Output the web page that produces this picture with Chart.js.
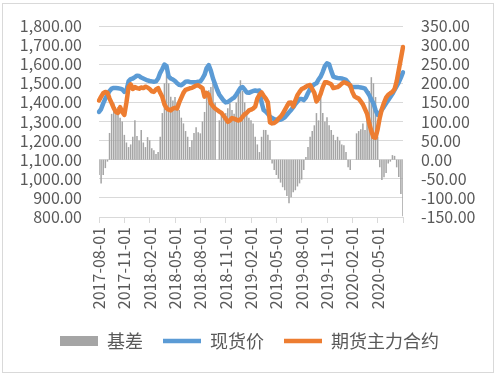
<!DOCTYPE html>
<html>
<head>
<meta charset="utf-8">
<script src="https://cdn.jsdelivr.net/npm/chart.js@4.4.1/dist/chart.umd.min.js"></script>
<style>
  html, body { margin: 0; padding: 0; background: #fff; }
  #wrap { width: 499px; height: 377px; position: relative; }
</style>
</head>
<body>
<div id="wrap"><canvas id="myChart" width="499" height="377"></canvas></div>
<script>
// weekly points, 2017-08-01 .. 2020-08-01
const months = [];
for (let y = 2017; y <= 2020; y++) {
  for (let m = 1; m <= 12; m++) {
    if ((y === 2017 && m < 8) || (y === 2020 && m > 7)) continue;
    months.push(y + "-" + String(m).padStart(2, "0"));
  }
}
const days = ["01", "08", "15", "22"];
const labels = [];
months.forEach((mo) => days.forEach((d) => labels.push(mo + "-" + d)));
labels.push("2020-08-01");

// 现货价
const spot = [
  1350, 1365, 1395, 1420, 1440, 1460, 1472, 1476, 1475, 1474, 1472, 1468,
  1455, 1462, 1510, 1522, 1525, 1532, 1540, 1538, 1530, 1525, 1520, 1515,
  1512, 1510, 1508, 1510, 1525, 1555, 1575, 1598, 1590, 1535, 1525, 1520,
  1512, 1500, 1492, 1490, 1498, 1508, 1510, 1507, 1505, 1505, 1506, 1508,
  1510, 1525, 1545, 1580, 1595, 1565, 1525, 1495, 1465, 1440, 1425, 1410,
  1400, 1402, 1410, 1418, 1425, 1440, 1458, 1475, 1480, 1468, 1452, 1450,
  1455, 1460, 1462, 1460, 1462, 1400, 1360, 1352, 1340, 1325, 1318, 1312,
  1310, 1307, 1310, 1315, 1322, 1335, 1348, 1360, 1375, 1392, 1405, 1418,
  1418, 1412, 1425, 1449, 1470, 1485, 1495, 1500, 1520, 1535, 1560, 1590,
  1605, 1600, 1565, 1535, 1530, 1528, 1527, 1525, 1522, 1518, 1505, 1485,
  1480, 1480, 1480, 1480, 1478, 1476, 1472, 1455, 1438, 1415, 1395, 1360,
  1335, 1344, 1362, 1378, 1395, 1412, 1428, 1445, 1465, 1485, 1505, 1530,
  1558,
];

// 期货主力合约
const futures = [
  1410, 1430, 1448, 1455, 1450, 1420, 1396, 1370, 1350, 1345, 1375, 1350,
  1335, 1400, 1480, 1495, 1470, 1480, 1475, 1472, 1478, 1475, 1482, 1478,
  1470, 1458, 1455, 1468, 1475, 1450, 1428, 1390, 1370, 1362, 1358, 1368,
  1372, 1368, 1400, 1425, 1450, 1466, 1470, 1474, 1476, 1482, 1488, 1490,
  1482, 1475, 1430, 1450, 1440, 1395, 1380, 1368, 1360, 1352, 1345, 1330,
  1315, 1298, 1305, 1318, 1315, 1310, 1305, 1310, 1325, 1338, 1345, 1358,
  1362, 1368, 1378, 1420, 1440, 1452, 1435, 1420, 1400, 1295, 1290, 1292,
  1300, 1315, 1325, 1340, 1360, 1380, 1398, 1400, 1378, 1410, 1438, 1455,
  1470, 1475, 1482, 1488, 1491, 1470, 1450, 1405, 1420, 1445, 1480, 1505,
  1505, 1500, 1495, 1475, 1478, 1480, 1488, 1498, 1505, 1502, 1496, 1490,
  1455, 1432, 1425, 1420, 1405, 1390, 1365, 1340, 1290, 1250, 1218, 1215,
  1260, 1320, 1365, 1398, 1425, 1440, 1448, 1455, 1470, 1510, 1570, 1630,
  1690,
];

// 基差 (right axis)
const basis = [
  -40, -62, -40, -22, -5, 70, 120, 148, 125, 138, 110, 100,
  65, 45, 33, 40, 60, 103, 62, 50, 78, 45, 33, 59,
  51, 30, 25, 15, 20, 60, 122, 200, 240, 200, 165, 155,
  164, 150, 130, 110, 95, 75, 60, 33, 51, 70, 85, 72,
  69, 100, 125, 164, 182, 190, 216, 150, 0, 103, 122, 118,
  122, 135, 148, 130, 120, 150, 174, 208, 180, 150, 130, 110,
  103, 95, 60, 40, 20, 60, 78, 78, 65, 51, -10, -27,
  -40, -50, -60, -72, -80, -95, -114, -98, -85, -80, -70, -62,
  -52, -27, 7, 33, 60, 75, 90, 122, 103, 164, 122, 100,
  111, 90, 78, 65, 51, 60, 50, 40, 38, 20, -20, -27,
  0, 0, 69, 75, 80, 95, 78, 122, 180, 216, 200, 164,
  60, -20, -53, -46, -35, -10, -5, 12, 10, -20, -45, -90,
  -148,
];

const tickEvery = 12; // every 3 months
const fontFamily = "'Noto Sans CJK SC', 'Liberation Sans', sans-serif";
const textColor = "#595959";
const gridColor = "#D9D9D9";

const fmt = (v) =>
  Number(v).toLocaleString("en-US", { minimumFractionDigits: 2, maximumFractionDigits: 2 });

// white background + light frame around the chart
const framePlugin = {
  id: "frame",
  beforeDraw(chart) {
    const c = chart.ctx;
    c.save();
    c.fillStyle = "#fff";
    c.fillRect(0, 0, chart.width, chart.height);
    c.strokeStyle = gridColor;
    c.lineWidth = 1;
    c.strokeRect(2.5, 3.5, 491, 369);
    c.restore();
  },
};

const ctx = document.getElementById("myChart").getContext("2d");
const myChart = new Chart(ctx, {
  type: "bar",
  data: {
    labels: labels,
    datasets: [
      {
        type: "bar",
        label: "基差",
        data: basis,
        yAxisID: "y1",
        backgroundColor: "#A5A5A5",
        borderWidth: 0,
        barPercentage: 0.72,
        categoryPercentage: 1,
        pointStyle: "rect",
        order: 3,
      },
      {
        type: "line",
        label: "现货价",
        data: spot,
        yAxisID: "y",
        borderColor: "#5B9BD5",
        backgroundColor: "#5B9BD5",
        borderWidth: 4.5,
        borderCapStyle: "round",
        borderJoinStyle: "round",
        pointRadius: 0,
        pointStyle: "line",
        tension: 0,
        order: 2,
      },
      {
        type: "line",
        label: "期货主力合约",
        data: futures,
        yAxisID: "y",
        borderColor: "#ED7D31",
        backgroundColor: "#ED7D31",
        borderWidth: 4.5,
        borderCapStyle: "round",
        borderJoinStyle: "round",
        pointRadius: 0,
        pointStyle: "line",
        tension: 0,
        order: 1,
      },
    ],
  },
  options: {
    responsive: false,
    animation: false,
    layout: {
      padding: { left: 0, right: 0, top: 26, bottom: 17 },
    },
    plugins: {
      tooltip: { enabled: false },
      legend: {
        position: "bottom",
        labels: {
          usePointStyle: true,
          pointStyleWidth: 38,
          boxHeight: 10,
          padding: 20,
          color: textColor,
          font: { family: fontFamily, size: 18 },
          sort: (a, b) => a.datasetIndex - b.datasetIndex,
        },
      },
    },
    scales: {
      x: {
        type: "category",
        offset: false,
        afterBuildTicks(scale) {
          scale.ticks = scale.ticks.filter((t) => t.value % tickEvery === 0);
        },
        afterFit(scale) {
          scale.height = 95;
        },
        grid: {
          display: true,
          offset: false,
          drawOnChartArea: false,
          drawTicks: true,
          tickLength: 6,
          color: gridColor,
        },
        border: { display: true, color: gridColor },
        ticks: {
          autoSkip: false,
          minRotation: 90,
          maxRotation: 90,
          padding: 4,
          color: textColor,
          font: { family: fontFamily, size: 16 },
          callback: function (value) {
            return value === labels.length - 1 ? "" : this.getLabelForValue(value);
          },
        },
      },
      y: {
        position: "left",
        min: 800,
        max: 1800,
        afterFit(scale) {
          scale.width = 99;
        },
        grid: { color: gridColor, drawTicks: false },
        border: { display: false },
        ticks: {
          stepSize: 100,
          autoSkip: false,
          padding: 17,
          color: textColor,
          font: { family: fontFamily, size: 16, lineHeight: 1 },
          callback: (v) => fmt(v),
        },
      },
      y1: {
        position: "right",
        min: -150,
        max: 350,
        afterFit(scale) {
          scale.width = 96;
        },
        grid: { display: false, drawTicks: false },
        border: { display: false },
        ticks: {
          stepSize: 50,
          autoSkip: false,
          padding: 18,
          color: textColor,
          font: { family: fontFamily, size: 16, lineHeight: 1 },
          callback: (v) => fmt(v),
        },
      },
    },
  },
  plugins: [framePlugin],
});
</script>
</body>
</html>
